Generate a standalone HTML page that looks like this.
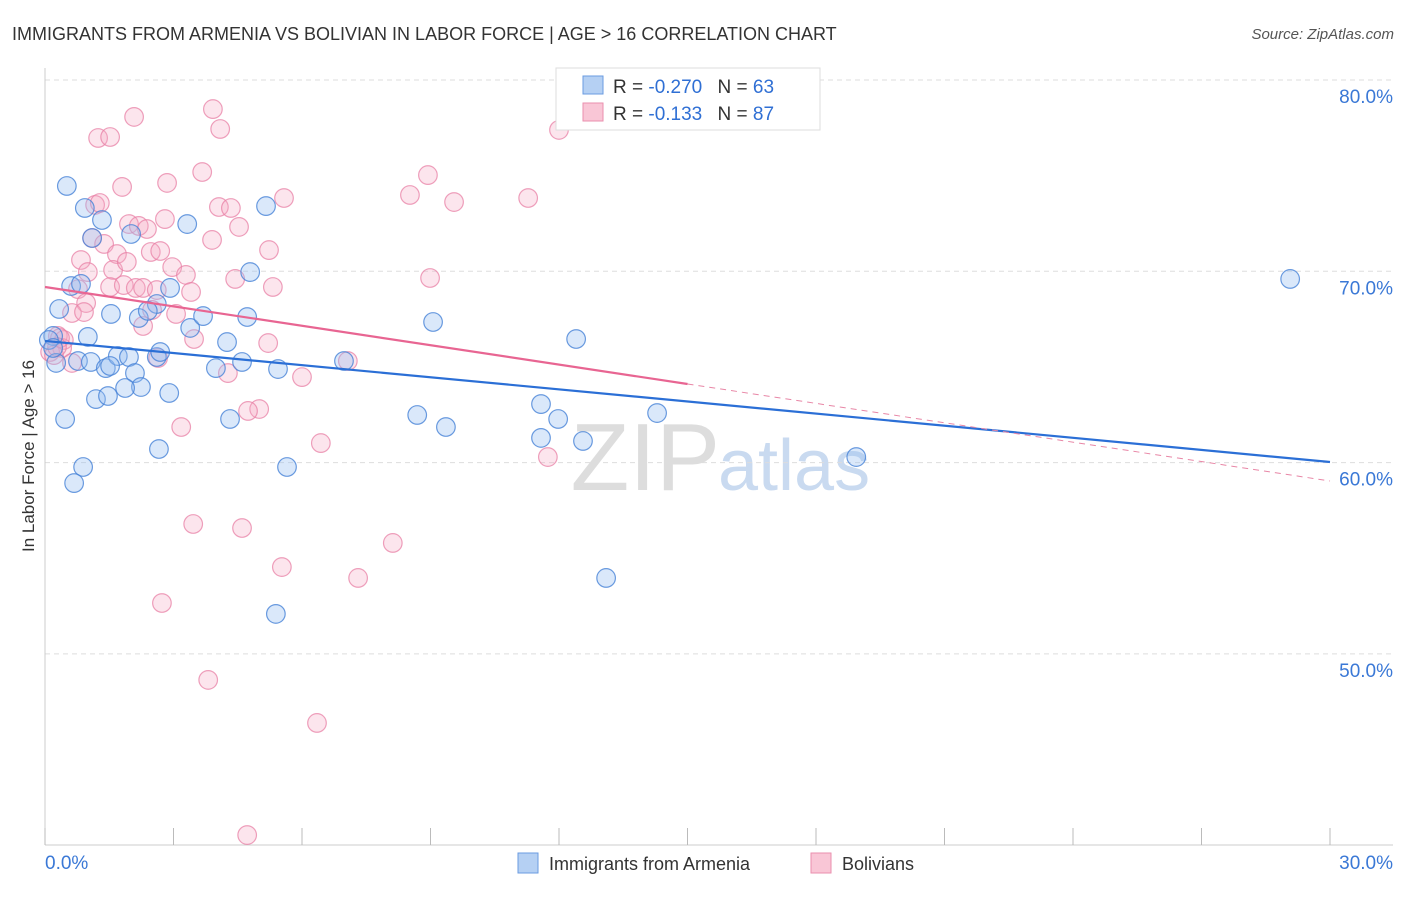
<!DOCTYPE html>
<html><head><meta charset="utf-8"><style>
body{margin:0;background:#fff;font-family:"Liberation Sans",sans-serif;}
svg text{font-family:"Liberation Sans",sans-serif;}
</style></head><body>
<svg id="chart" width="1406" height="892">
<text x="12" y="40" font-size="18" fill="#333">IMMIGRANTS FROM ARMENIA VS BOLIVIAN IN LABOR FORCE | AGE &gt; 16 CORRELATION CHART</text>
<text x="1394" y="39" font-size="15" fill="#555" font-style="italic" text-anchor="end">Source: ZipAtlas.com</text>
<text x="720" y="490" font-size="96" fill="#ddd" text-anchor="end" font-family="Liberation Serif">ZIP</text>
<text x="718" y="490" font-size="72" fill="#c9daf0">atlas</text>
<g id="grid"></g><g id="axes"></g><g id="pts"></g><g id="trends"></g>
<text transform="translate(34,456) rotate(-90)" font-size="17" fill="#333" text-anchor="middle">In Labor Force | Age &gt; 16</text>
<g>
<rect x="556" y="68" width="264" height="62" fill="#fff" stroke="#ddd"/>
<rect x="583" y="76" width="20" height="18" fill="#b5d0f3" stroke="#6a9be0"/>
<rect x="583" y="103" width="20" height="18" fill="#f9c6d6" stroke="#ea8fae"/>
<text x="613" y="93" font-size="19" fill="#333">R = <tspan fill="#2f6fd4">-0.270</tspan>  <tspan dx="10">N = </tspan><tspan fill="#2f6fd4">63</tspan></text>
<text x="613" y="120" font-size="19" fill="#333">R =  <tspan fill="#2f6fd4">-0.133</tspan>  <tspan dx="10">N = </tspan><tspan fill="#2f6fd4">87</tspan></text>
</g>
<g>
<rect x="518" y="853" width="20" height="20" fill="#b5d0f3" stroke="#6a9be0"/>
<text x="549" y="870" font-size="18" fill="#333">Immigrants from Armenia</text>
<rect x="811" y="853" width="20" height="20" fill="#f9c6d6" stroke="#ea8fae"/>
<text x="842" y="870" font-size="18" fill="#333">Bolivians</text>
</g>
</svg>
<script>
const blueX=[.51,.93,1.33,2.01,3.32,5.16,4.79,.61,.84,.33,1.54,2.19,2.61,2.92,3.39,4.25,4.72,1.00,.19,.26,.77,1.07,1.42,1.70,1.96,2.10,2.61,2.24,1.87,1.19,1.47,2.90,3.99,4.60,5.44,4.32,.47,.89,.68,2.66,5.65,5.39,6.98,9.06,8.69,9.36,11.58,11.58,11.98,12.56,12.40,13.10,14.29,18.94,29.07,2.40,.09,.19,1.10,3.69,1.52,2.69];
const blueY=[74.46,73.31,72.68,71.95,72.47,73.41,69.96,69.23,69.34,68.03,67.77,67.56,68.29,69.13,67.04,66.30,67.61,66.57,66.62,65.21,65.31,65.26,64.94,65.57,65.52,64.68,65.52,63.95,63.90,63.32,63.48,63.64,64.94,65.26,64.89,62.28,62.28,59.77,58.93,60.71,59.77,52.09,65.31,67.35,62.49,61.86,63.06,61.29,62.28,61.13,66.46,53.97,62.59,60.29,69.60,67.93,66.41,65.99,71.74,67.66,65.05,65.78];
const pinkX=[1.24,1.52,2.08,3.92,4.09,1.80,1.17,1.28,2.85,3.67,5.58,4.06,4.34,4.53,1.96,2.19,2.38,2.80,3.90,5.23,1.10,1.38,1.68,2.47,2.69,.84,1.00,1.59,1.91,2.97,3.29,4.44,5.32,.77,1.52,1.84,2.12,2.29,2.61,3.41,.96,.63,.91,2.29,2.50,3.06,3.48,5.21,.30,.44,.40,.12,.63,2.64,4.27,6.00,7.07,5.00,4.74,3.18,6.44,3.46,4.60,8.12,5.53,7.31,2.73,3.81,6.35,4.72,8.52,8.94,9.55,11.28,12.00,8.99,11.74,.35,.21,.28];
const pinkY=[76.97,77.02,78.07,78.48,77.44,74.41,73.47,73.57,74.62,75.19,73.83,73.36,73.31,72.32,72.47,72.37,72.21,72.73,71.64,71.11,71.74,71.43,70.90,71.01,71.06,70.59,69.96,70.07,70.49,70.22,69.81,69.60,69.18,69.07,69.18,69.28,69.13,69.13,69.02,68.92,68.34,67.82,67.87,67.14,67.98,67.77,66.46,66.25,66.62,66.41,65.99,65.78,65.21,65.47,64.68,64.47,65.31,62.80,62.70,61.86,61.02,56.79,56.58,55.80,54.54,53.97,52.66,48.64,46.39,40.53,73.99,75.03,73.62,73.83,77.39,69.65,60.29,66.51,65.62,66.04];
const yTicks=[80,70,60,50];
const yTickLabels=["80.0%","70.0%","60.0%","50.0%"];
const xTicks=[0,3,6,9,12,15,18,21,24,27,30];
const blueTrend=[66.36,60.03];
const pinkTrend=[69.18,59.04];
const pinkSolidEnd=15;
const NS="http://www.w3.org/2000/svg";
const X0=45,X1=1330,Y80=80,PX10=191.3;
function sx(v){return X0+(v/30)*(X1-X0);}
function sy(v){return Y80+(80-v)/10*PX10;}
function mk(tag,attrs,parent){const e=document.createElementNS(NS,tag);for(const k in attrs)e.setAttribute(k,attrs[k]);parent.appendChild(e);return e;}
const grid=document.getElementById('grid'),axes=document.getElementById('axes');
yTicks.forEach((t,i)=>{
 const l=mk('line',{x1:X0,x2:1393,y1:sy(t),y2:sy(t),stroke:'#ddd','stroke-dasharray':'5,4'},grid);
 
 
 const tx=mk('text',{x:1393,y:sy(t)+23,'font-size':19,fill:'#3a78d6','text-anchor':'end'},grid);
 tx.textContent=yTickLabels[i];
 
 
});
const ax=mk('line',{x1:X0,x2:X0,y1:68,y2:845,stroke:'#ccc'},axes);


const bx=mk('line',{x1:X0,x2:1393,y1:845,y2:845,stroke:'#ccc'},axes);


xTicks.forEach(t=>{
 const l=mk('line',{x1:sx(t),x2:sx(t),y1:828,y2:845,stroke:'#bbb'},axes);
 
 
});
const xl=mk('text',{x:45,y:869,'font-size':19,fill:'#3a78d6'},axes);xl.textContent="0.0%";


const xr=mk('text',{x:1393,y:869,'font-size':19,fill:'#3a78d6','text-anchor':'end'},axes);xr.textContent="30.0%";


const pts=document.getElementById('pts');
pinkX.forEach((x,i)=>{
 const c=mk('circle',{cx:sx(x),cy:sy(pinkY[i]),r:9.3,fill:'rgba(246,170,195,0.3)',stroke:'rgba(232,128,165,0.75)','stroke-width':1.2},pts);
 
 
});
blueX.forEach((x,i)=>{
 const c=mk('circle',{cx:sx(x),cy:sy(blueY[i]),r:9.3,fill:'rgba(150,190,240,0.35)',stroke:'rgba(70,130,215,0.8)','stroke-width':1.2},pts);
 
 
});
const tr=document.getElementById('trends');
const b=mk('line',{x1:sx(0),y1:sy(blueTrend[0]),x2:sx(30),y2:sy(blueTrend[1]),stroke:'#2b6fd6','stroke-width':2.2},tr);


const pm=pinkTrend[0]+(pinkTrend[1]-pinkTrend[0])*pinkSolidEnd/30;
const p=mk('line',{x1:sx(0),y1:sy(pinkTrend[0]),x2:sx(pinkSolidEnd),y2:sy(pm),stroke:'#e86592','stroke-width':2.2},tr);


const pd=mk('line',{x1:sx(pinkSolidEnd),y1:sy(pm),x2:sx(30),y2:sy(pinkTrend[1]),stroke:'#e886a6','stroke-width':1,'stroke-dasharray':'6,5'},tr);


</script>
</body></html>
